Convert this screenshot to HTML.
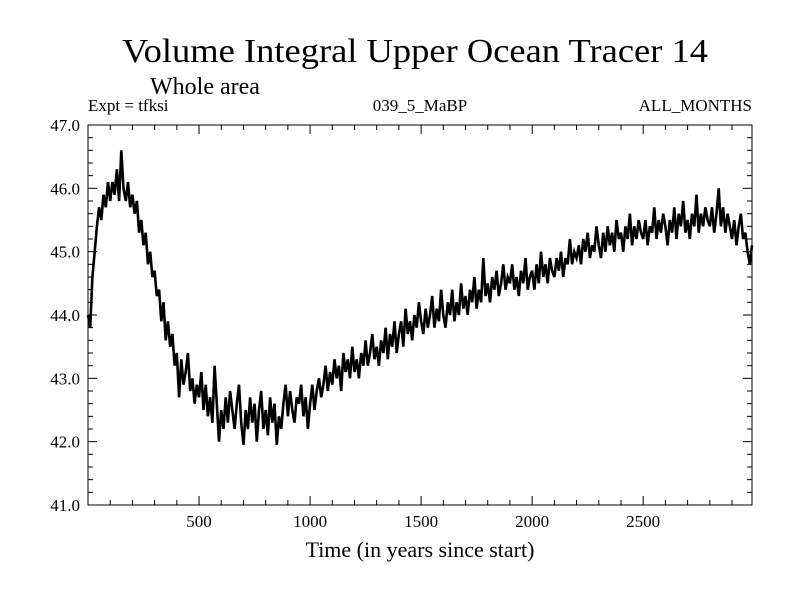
<!DOCTYPE html>
<html><head><meta charset="utf-8"><style>
body{margin:0;background:#fff}
svg{display:block;font-family:"Liberation Serif",serif}
</style></head><body>
<svg id="chart" width="800" height="600" viewBox="0 0 800 600">
<rect width="800" height="600" fill="#fff"/>
<text x="122" y="62" font-size="34" textLength="586" lengthAdjust="spacingAndGlyphs">Volume Integral Upper Ocean Tracer 14</text>
<text x="150" y="94" font-size="24">Whole area</text>
<text x="88" y="111" font-size="17">Expt = tfksi</text>
<text x="420" y="111" font-size="17" text-anchor="middle">039_5_MaBP</text>
<text x="752" y="111" font-size="17" text-anchor="end">ALL_MONTHS</text>
<g id="axes"></g>
<path id="series" fill="none" stroke="#000" stroke-width="2.6" stroke-linejoin="miter"/>
<rect x="88" y="125" width="664" height="380" fill="none" stroke="#000" stroke-width="1"/>
<text x="420" y="557" font-size="22" text-anchor="middle">Time (in years since start)</text>
</svg>
<script>
const xTicks=[500,1000,1500,2000,2500];
const yTicks=[41.0,42.0,43.0,44.0,45.0,46.0,47.0];
const startYear=0, stepYears=10;
const values=[
44.0,43.8,44.6,45.0,45.4,45.7,45.5,45.9,45.7,46.1,
45.8,46.1,45.9,46.3,45.8,46.6,46.0,45.8,46.1,45.7,
45.9,45.6,45.8,45.3,45.5,45.1,45.3,44.8,45.0,44.6,
44.7,44.3,44.4,43.9,44.2,43.6,43.9,43.5,43.7,43.2,
43.4,42.7,43.3,42.9,43.1,43.4,42.8,43.0,42.6,42.9,
42.7,43.1,42.5,42.9,42.4,42.7,42.3,43.2,42.6,42.0,
42.5,42.2,42.7,42.3,42.8,42.5,42.2,42.6,42.9,42.3,
41.95,42.5,42.2,42.7,42.3,42.6,42.0,42.5,42.8,42.2,
42.5,42.1,42.7,42.3,42.6,41.95,42.4,42.2,42.6,42.9,
42.4,42.8,42.5,42.3,42.7,42.6,42.9,42.4,42.7,42.2,
42.6,42.9,42.5,42.8,43.0,42.7,42.9,43.2,42.8,43.1,
42.9,43.3,43.0,43.2,42.8,43.4,43.1,43.3,43.0,43.5,
43.1,43.3,43.0,43.4,43.2,43.6,43.2,43.4,43.7,43.3,
43.5,43.2,43.6,43.4,43.8,43.3,43.7,43.5,43.9,43.4,
43.7,43.9,43.5,44.1,43.7,43.9,43.6,44.0,43.8,44.2,
43.9,43.7,44.1,43.8,44.0,44.3,43.8,44.1,43.9,44.4,
44.0,43.8,44.2,44.0,44.4,43.9,44.2,44.0,44.5,44.1,
44.3,44.0,44.4,44.2,44.6,44.1,44.4,44.2,44.9,44.3,
44.5,44.2,44.6,44.4,44.7,44.3,44.5,44.8,44.4,44.6,
44.5,44.8,44.4,44.6,44.3,44.7,44.5,44.9,44.4,44.6,
44.7,44.4,44.8,44.5,45.0,44.6,44.8,44.5,44.9,44.7,
44.6,44.9,44.7,45.0,44.6,44.9,44.8,45.2,44.8,45.0,
44.9,45.1,44.8,45.2,45.0,45.3,44.9,45.1,45.0,45.4,
45.1,44.9,45.3,45.0,45.4,45.1,45.3,45.0,45.5,45.2,
45.3,45.0,45.4,45.2,45.6,45.1,45.4,45.2,45.5,45.3,
45.2,45.5,45.1,45.4,45.3,45.7,45.2,45.5,45.3,45.6,
45.4,45.1,45.5,45.3,45.7,45.2,45.6,45.4,45.8,45.3,
45.5,45.2,45.6,45.4,45.9,45.3,45.6,45.4,45.7,45.5,
45.4,45.7,45.3,45.6,46.0,45.4,45.7,45.3,45.6,45.4,
45.2,45.5,45.1,45.4,45.6,45.2,45.3,45.0,44.8,45.1
];
const X0=88,X1=752,Y0=505,Y1=125,xmin=0,xmax=2990,ymin=41,ymax=47;
const xs=v=>X0+(v-xmin)/(xmax-xmin)*(X1-X0);
const ys=v=>Y0-(v-ymin)/(ymax-ymin)*(Y0-Y1);
const NS="http://www.w3.org/2000/svg";
const axes=document.getElementById('axes');
function line(x1,y1,x2,y2,name){
 const l=document.createElementNS(NS,'line');
 l.setAttribute('x1',x1);l.setAttribute('y1',y1);l.setAttribute('x2',x2);l.setAttribute('y2',y2);
 l.setAttribute('stroke','#000');l.setAttribute('stroke-width','1');
 
 
 axes.appendChild(l);
}
function text(x,y,s,anchor,name){
 const t=document.createElementNS(NS,'text');
 t.setAttribute('x',x);t.setAttribute('y',y);t.setAttribute('font-size','17');t.setAttribute('text-anchor',anchor);
 t.textContent=s;
 
 
 axes.appendChild(t);
}
for(let v=100;v<xmax;v+=100){
 const x=xs(v),major=v%500===0,len=major?9:5;
 line(x,Y0,x,Y0-len,'x-tick');
 line(x,Y1,x,Y1+len,'x-tick-top');
}
xTicks.forEach(v=>text(xs(v),527,String(v),'middle','x-tick-label'));
for(let i=0;i<=30;i++){
 const v=ymin+i*0.2,y=ys(v),major=i%5===0,len=major?9:5;
 line(X0,y,X0+len,y,'y-tick');
 line(X1,y,X1-len,y,'y-tick-right');
}
yTicks.forEach(v=>text(80,ys(v)+6,v.toFixed(1),'end','y-tick-label'));
let d='';
values.forEach((v,i)=>{const t=startYear+i*stepYears;d+=(i?'L':'M')+xs(t).toFixed(1)+' '+ys(v).toFixed(1);});
document.getElementById('series').setAttribute('d',d);
</script>
</body></html>
